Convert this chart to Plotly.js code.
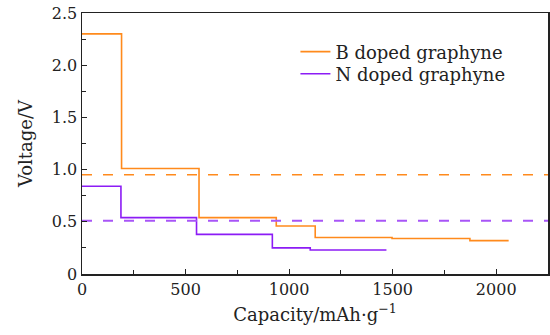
<!DOCTYPE html>
<html><head><meta charset="utf-8">
<script src="https://cdn.plot.ly/plotly-3.0.1.min.js"></script>
<style>body{margin:0}#c{width:550px;height:335px}</style>
</head><body><div id="c"></div>
<script>
// B doped graphyne voltage steps (capacity breakpoints, voltage)
const bCap = [0, 191, 565, 938, 1126, 1497, 1873, 2060];
const bVolt = [2.30, 1.01, 0.54, 0.46, 0.35, 0.34, 0.32, 0.32];
// N doped graphyne
const nCap = [0, 188, 553, 919, 1102, 1470];
const nVolt = [0.84, 0.54, 0.38, 0.25, 0.23, 0.23];
// average voltages (dashed lines)
const avgCap = [0, 2250];
const bAvg = [0.95, 0.95];
const nAvg = [0.51, 0.51];
const yTickVals = [0, 0.5, 1.0, 1.5, 2.0, 2.5];
const yTickText = ['0', '0.5', '1.0', '1.5', '2.0', '2.5'];
const seriesNames = ['B doped graphyne', 'N doped graphyne'];

const orange = '#ff8a1c', purple = '#8c1cf5';
const font = {family: 'DejaVu Serif', size: 16, color: '#222'};
const bigFont = {family: 'DejaVu Serif', size: 18, color: '#222'};
const traces = [
  {x: bCap, y: bVolt, mode: 'lines', line: {shape: 'hv', color: orange, width: 1.6}, name: seriesNames[0], legend: 'legend'},
  {x: nCap, y: nVolt, mode: 'lines', line: {shape: 'hv', color: purple, width: 1.6}, name: seriesNames[1], legend: 'legend2'},
  {x: avgCap, y: bAvg, mode: 'lines', line: {color: orange, width: 1.5, dash: '10px,11px'}, showlegend: false},
  {x: avgCap, y: nAvg, mode: 'lines', line: {color: '#a855f7', width: 2.2, dash: '10px,11px'}, showlegend: false}
];
const legBase = {xanchor: 'left', yanchor: 'middle', bgcolor: 'rgba(0,0,0,0)', font: bigFont, itemwidth: 30};
const layout = {
  width: 550, height: 335,
  margin: {l: 82, r: 2, t: 13, b: 61},
  paper_bgcolor: 'white', plot_bgcolor: 'white',
  font: font,
  showlegend: true,
  legend: Object.assign({x: 0.458, y: 0.851}, legBase),
  legend2: Object.assign({x: 0.458, y: 0.766}, legBase),
  xaxis: {range: [0, 2250], dtick: 500, tick0: 0, ticks: 'inside', ticklen: 5, tickcolor: '#222',
          showline: true, mirror: true, linecolor: '#222', linewidth: 1.5, showgrid: false, zeroline: false,
          minor: {dtick: 250, ticks: 'inside', ticklen: 4, tickcolor: '#222', showgrid: false},
          title: {text: 'Capacity/mAh·g<sup>−1</sup>', font: bigFont, standoff: 10}},
  yaxis: {range: [0, 2.5], tickvals: yTickVals, ticktext: yTickText, ticks: 'inside', ticklen: 5, tickcolor: '#222',
          showline: true, mirror: true, linecolor: '#222', linewidth: 1.5, showgrid: false, zeroline: false,
          minor: {tickvals: [0.25, 0.75, 1.25, 1.75, 2.25], ticks: 'inside', ticklen: 4, tickcolor: '#222', showgrid: false},
          title: {text: 'Voltage/V', font: bigFont, standoff: 14}}
};
Plotly.newPlot('c', traces, layout, {displayModeBar: false, staticPlot: true});
</script></body></html>
